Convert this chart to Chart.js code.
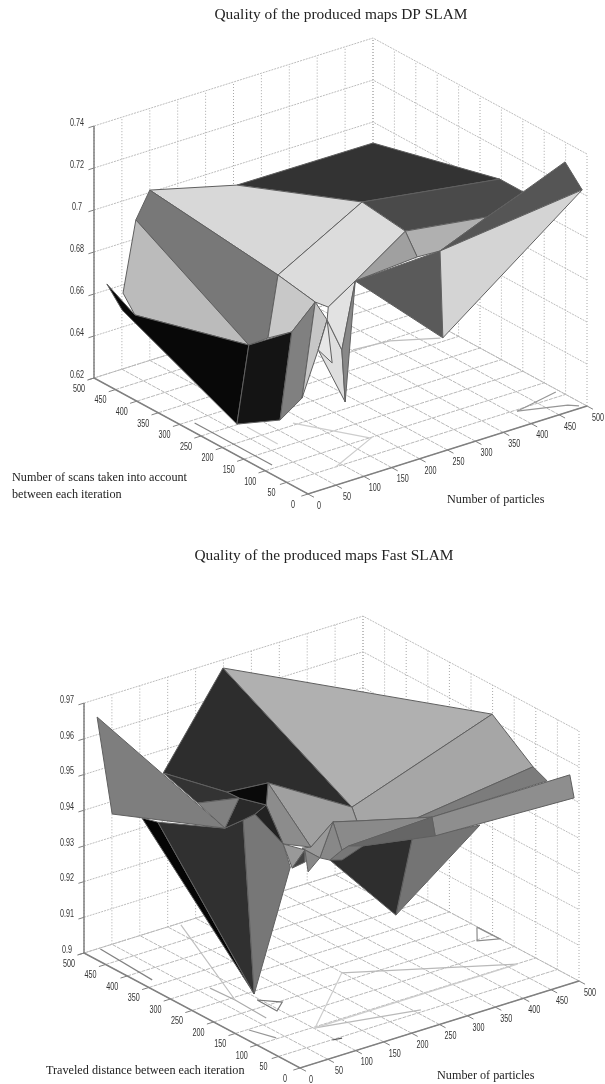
<!DOCTYPE html>
<html>
<head>
<meta charset="utf-8">
<title>Quality of the produced maps</title>
<script src="https://cdn.jsdelivr.net/npm/chart.js@4"></script>
<style>
  html, body { margin: 0; padding: 0; background: #fff; }
  canvas { display: block; filter: blur(0.7px); }
</style>
</head>
<body>
<canvas id="dpChart" width="605" height="540"></canvas>
<canvas id="fastChart" width="605" height="544"></canvas>
<script>
// shared axis ticks
const particleTicks = [0, 50, 100, 150, 200, 250, 300, 350, 400, 450, 500];
const scanTicks = [0, 50, 100, 150, 200, 250, 300, 350, 400, 450, 500];

// DP SLAM surface, one entry per vertex
const dpQualityTicks = [0.62, 0.64, 0.66, 0.68, 0.7, 0.72, 0.74];
const dpParticles = [0, 35, 52, 75, 100, 256, 500, 497, 327, 138, 124, 26, 65, 86, 120, 128, 66, 111, 95, 120, 99, 105, 113, 123, 251, 359, 424, 499, 499, 252, 211, 257, 12];
const dpScans = [470, 450, 500, 500, 500, 500, 500, 200, 300, 250, 300, 200, 150, 150, 250, 150, 100, 100, 100, 100, 50, 50, 100, 50, 100, 50, 50, 50, 10, 20, 20, 20, 450];
const dpQuality = [.6681, .6526, .6561, .6890, .7011, .6904, .6900, .7062, .6985, .6851, .6474, .6290, .6332, .6734, .6566, .6841, .6491, .6825, .6696, .6613, .6748, .6495, .6885, .7056, .7131, .7163, .7228, .7308, .7219, .7124, .7130, .6706, .6569];
const dpFacets = [[5,6,7,8],[8,7,26,25,24],[24,25,29,30],[24,30,23],[25,26,27,28,29],[23,29,31],[29,28,31],[4,5,8,9],[8,24,23,22,15,9],[4,9,14,10,3],[3,10,1,2],[9,15,13,14],[0,1,10,11,32],[10,13,12,11],[13,15,16,12],[15,17,18,16],[17,20,21,18],[18,17,19],[22,23,20,17],[23,21,20]];
const dpFacetGrey = [51, 74, 176, 160, 85, 90, 212, 216, 220, 120, 187, 200, 8, 20, 128, 198, 222, 230, 226, 136];
// traces left on the floor, pairs of particles / scans
const dpFloorParticles = [[20,20],[410,494],[410,480,491],[476,413,352],[71,70],[131,188,88]];
const dpFloorScans = [[291,110],[46,65],[46,19,7],[311,347,354],[235,162],[206,98,50]];
const dpFloorGrey = [130, 150, 150, 190, 205, 205];

// Fast SLAM surface
const fastQualityTicks = [0.9, 0.91, 0.92, 0.93, 0.94, 0.95, 0.96, 0.97];
const fastParticles = [249, 500, 248, 495, 497, 499, 499, 252, 250, 248, 218, 8, 4, 59, 142, 49, 123, 140, 175, 133, 74, 53, 34, 65, 55, 86, 60, 97, 81, 48, 63, 63, 82, 61, 152, 137, 100, 134, 152, 114, 224, 338, 195];
const fastScans = [500, 201, 200, 100, 70, 20, 10, 20, 10, 50, 150, 480, 440, 250, 500, 300, 300, 350, 300, 250, 200, 200, 150, 450, 400, 150, 100, 100, 100, 80, 70, 70, 60, 60, 120, 80, 60, 60, 50, 50, 30, 20, 30];
const fastQuality = [.9677, .9618, .9481, .9538, .9517, .9565, .9507, .9567, .9522, .9547, .9489, .9670, .9426, .9482, .9435, .9525, .9503, .9479, .9520, .9511, .9546, .9540, .9094, .9379, .9404, .9489, .9469, .9507, .9512, .9485, .9535, .9501, .9510, .9481, .9538, .9492, .9495, .9518, .9516, .9495, .9513, .9503, .9314];
const fastFacets = [[14,0,2,18,17],[0,1,2],[2,1,3,9,10],[3,4,7,9],[40,41,42],[36,38,40,42],[7,5,6,8],[18,2,10,34,27],[18,27,25,19],[34,10,7,37,35],[37,7,8,38],[35,37,38,39,36],[34,35,36,32],[27,34,32,28],[23,24,22],[24,13,21,22],[21,20,25,26,22],[20,19,25],[16,19,20,21,13],[17,18,19,16],[14,15,16,17],[15,16,13],[11,12,13],[25,30,29],[29,30,31],[30,32,33]];
const fastFacetGrey = [45, 176, 166, 124, 116, 46, 142, 160, 140, 138, 102, 119, 136, 153, 5, 48, 119, 34, 42, 10, 51, 128, 126, 153, 68, 136];
const fastFloorParticles = [[27,20],[68,71,68],[96,120,95,96],[499,470,500,499],[249,466],[102,260],[23,37],[96,111],[169,71],[249,102,466]];
const fastFloorScans = [[497,368],[296,242,166],[223,196,176,223],[235,197,183,235],[225,99],[97,56],[148,103],[49,46],[494,242],[225,97,99]];
const fastFloorGrey = [130, 170, 120, 140, 185, 185, 150, 90, 190, 205];

function grey(v) { return 'rgb(' + v + ',' + v + ',' + v + ')'; }

function makeChart(id, cfg) {
  const v = cfg.view;
  const zMin = cfg.qualityTicks[0];
  const zMax = cfg.qualityTicks[cfg.qualityTicks.length - 1];
  const project = (p, s, q) => ({
    x: v.ox + v.px * p + v.sx * s,
    y: v.oy + v.py * p + v.sy * s - (q - zMin) * v.qScale
  });
  const datasets = [];
  const addLine = (pts, color, width, dash) => datasets.push({
    data: pts, showLine: true, fill: false, borderColor: color, borderWidth: width,
    borderDash: dash || [], pointRadius: 0, tension: 0
  });

  // walls
  particleTicks.forEach(p => addLine([project(p, 500, zMin), project(p, 500, zMax)], '#a8a8a8', 1, [1, 2]));
  scanTicks.forEach(s => addLine([project(500, s, zMin), project(500, s, zMax)], '#a8a8a8', 1, [1, 2]));
  cfg.qualityTicks.forEach(q => addLine([project(0, 500, q), project(500, 500, q), project(500, 0, q)], '#bcbcbc', 1, [2, 1]));
  // floor
  particleTicks.forEach(p => addLine([project(p, 0, zMin), project(p, 500, zMin)], '#b8b8b8', 1, [4, 1]));
  scanTicks.forEach(s => addLine([project(0, s, zMin), project(500, s, zMin)], '#b8b8b8', 1, [4, 1]));
  cfg.floorParticles.forEach((ps, i) => addLine(ps.map((p, j) => project(p, cfg.floorScans[i][j], zMin)), grey(cfg.floorGrey[i]), 1.2));
  // box axes and tick marks
  addLine([project(0, 500, zMax), project(0, 500, zMin), project(0, 0, zMin), project(500, 0, zMin)], '#808080', 1.5);
  scanTicks.forEach(s => addLine([project(0, s, zMin), project(-12, s, zMin)], '#808080', 1));
  particleTicks.forEach(p => addLine([project(p, 0, zMin), project(p, -14, zMin)], '#808080', 1));
  cfg.qualityTicks.forEach(q => addLine([project(0, 500, q), project(-10, 500, q)], '#808080', 1));

  // surface patches, back to front
  cfg.facets.forEach((f, i) => {
    const pts = f.concat(f[0]).map(k => project(cfg.particles[k], cfg.scans[k], cfg.quality[k]));
    datasets.push({
      data: pts, showLine: true, fill: 'shape', backgroundColor: grey(cfg.facetGrey[i]),
      borderColor: '#5f5f5f', borderWidth: 1, pointRadius: 0, tension: 0
    });
  });
  // first dataset is drawn last by default, so number them the other way
  datasets.forEach((d, i) => { d.order = datasets.length - i; });

  const labelPlugin = {
    id: 'labels',
    afterDatasetsDraw(chart) {
      const c = chart.ctx, xs = chart.scales.x, ys = chart.scales.y;
      const narrow = (txt, x, y) => {
        c.save();
        c.translate(xs.getPixelForValue(x), ys.getPixelForValue(y));
        c.scale(0.72, 1);
        c.font = '10px "Liberation Sans"';
        c.fillStyle = '#333';
        c.textAlign = 'center';
        c.textBaseline = 'middle';
        c.fillText(txt, 0, 0);
        c.restore();
      };
      scanTicks.forEach(s => { const a = project(0, s, zMin); narrow(String(s), a.x - 15, a.y + 11); });
      particleTicks.forEach(p => { const a = project(p, 0, zMin); narrow(String(p), a.x + 11, a.y + 12); });
      cfg.qualityTicks.forEach(q => { const a = project(0, 500, q); narrow(String(q), a.x - 17, a.y - 3); });

      c.fillStyle = '#222';
      c.textBaseline = 'middle';
      c.textAlign = 'center';
      c.font = '15.4px "Liberation Serif"';
      c.fillText(cfg.title, xs.getPixelForValue(cfg.titleX), ys.getPixelForValue(cfg.titleY));
      c.textAlign = 'left';
      c.font = '12.2px "Liberation Serif"';
      cfg.notes.forEach(n => c.fillText(n[0], xs.getPixelForValue(n[1]), ys.getPixelForValue(n[2])));
    }
  };

  return new Chart(document.getElementById(id), {
    type: 'scatter',
    data: { datasets: datasets },
    options: {
      responsive: false,
      animation: false,
      layout: { padding: 0 },
      plugins: { legend: { display: false }, tooltip: { enabled: false } },
      scales: {
        x: { type: 'linear', display: false, min: 0, max: 605 },
        y: { type: 'linear', display: false, min: cfg.yRange[0], max: cfg.yRange[1], reverse: true }
      }
    },
    plugins: [labelPlugin]
  });
}

makeChart('dpChart', {
  view: { ox: 308, oy: 494, px: .558, sx: -.428, py: -.176, sy: -.232, qScale: 2100 },
  yRange: [0, 540],
  qualityTicks: dpQualityTicks,
  particles: dpParticles, scans: dpScans, quality: dpQuality,
  facets: dpFacets, facetGrey: dpFacetGrey,
  floorParticles: dpFloorParticles, floorScans: dpFloorScans, floorGrey: dpFloorGrey,
  title: 'Quality of the produced maps DP SLAM', titleX: 341, titleY: 15,
  notes: [
    ['Number of scans taken into account', 12, 478],
    ['between each iteration', 12, 495],
    ['Number of particles', 447, 500]
  ]
});

makeChart('fastChart', {
  view: { ox: 300, oy: 1068, px: .558, sx: -.432, py: -.174, sy: -.23, qScale: 3570 },
  yRange: [540, 1084],
  qualityTicks: fastQualityTicks,
  particles: fastParticles, scans: fastScans, quality: fastQuality,
  facets: fastFacets, facetGrey: fastFacetGrey,
  floorParticles: fastFloorParticles, floorScans: fastFloorScans, floorGrey: fastFloorGrey,
  title: 'Quality of the produced maps Fast SLAM', titleX: 324, titleY: 556,
  notes: [
    ['Traveled distance between each iteration', 46, 1071],
    ['Number of particles', 437, 1076]
  ]
});
</script>
</body>
</html>
